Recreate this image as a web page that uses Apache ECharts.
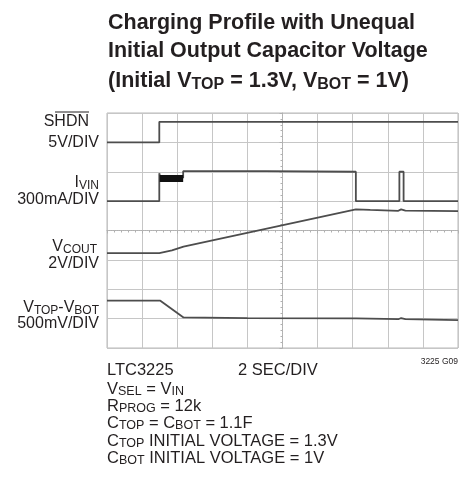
<!DOCTYPE html>
<html><head><meta charset="utf-8">
<script src="https://cdn.jsdelivr.net/npm/echarts@6/dist/echarts.min.js"></script>
<style>html,body{margin:0;padding:0;background:#fff}#c{width:465px;height:485px}</style>
</head><body><div id="c"></div>
<script>
// Screen divisions: x = time (2 s/div, 10 div), y = vertical divisions (0 bottom .. 8 top)
const shdnT = [0, 1.49, 1.49, 10];
const shdnV = [7.0, 7.0, 7.7, 7.7];
const ivinT = [0, 1.49, 1.49, 1.52, 2.17, 2.17, 4.5, 7.09, 7.09, 8.33, 8.33, 8.45, 8.45, 10];
const ivinV = [5.0, 5.0, 5.95, 5.8, 5.8, 6.02, 6.02, 6.0, 5.0, 5.0, 6.0, 6.0, 5.0, 5.0];
const ivinBandT = [1.5, 2.17];
const ivinBandV = [5.77, 5.77];
const vcoutT = [0, 1.49, 1.85, 2.18, 7.09, 7.5, 8.3, 8.38, 8.5, 10];
const vcoutV = [3.23, 3.23, 3.32, 3.45, 4.72, 4.70, 4.67, 4.72, 4.68, 4.66];
const vdiffT = [0, 1.52, 2.18, 4.0, 7.1, 8.3, 8.38, 8.5, 10];
const vdiffV = [1.61, 1.61, 1.04, 1.02, 1.01, 0.98, 1.02, 0.98, 0.95];
const xTicks = [0, 10];
const yTicks = [0, 8];

const zip = (a, b) => a.map((t, i) => [t, b[i]]);
const F = '"Liberation Sans", Arial, sans-serif';
const traceColor = '#4d4d4d';
const gridColor = '#c6c6c6';
const ink = '#231f20';

function lineSeries(name, t, v, w, color) {
  return { name, type: 'line', xAxisIndex: 0, yAxisIndex: 0, data: zip(t, v),
    showSymbol: false, symbol: 'none', lineStyle: { color: color || traceColor, width: w || 1.8 },
    silent: true, z: 5 };
}

const chart = echarts.init(document.getElementById('c'), null, { renderer: 'canvas' });
function txt(x, y, text, fs, align, rich, weight) {
  return { type: 'text', x, y, silent: true, style: {
    text, fill: ink, font: (weight || 'normal') + ' ' + fs + 'px ' + F,
    align: align || 'left', verticalAlign: 'middle', rich } };
}
const labRich = {
  n: { fontFamily: F, fontSize: 16, fill: ink, lineHeight: 18 },
  s: { fontFamily: F, fontSize: 12, fill: ink, padding: [6, 0, 0, 0], lineHeight: 12 }
};
const botRich = {
  n: { fontFamily: F, fontSize: 16.5, fill: ink, lineHeight: 18 },
  s: { fontFamily: F, fontSize: 12.5, fill: ink, padding: [6, 0, 0, 0], lineHeight: 12 }
};
const titRich = {
  n: { fontFamily: F, fontSize: 21.5, fontWeight: 'bold', fill: ink, lineHeight: 24 },
  s: { fontFamily: F, fontSize: 16, fontWeight: 'bold', fill: ink, padding: [8, 0, 0, 0], lineHeight: 16 }
};

chart.setOption({
  animation: false,
  grid: [
    { left: 107, top: 113, width: 351, height: 235, show: true, borderColor: '#b8b8b8', borderWidth: 1, backgroundColor: '#fff' },
    { left: 107, top: 113, width: 351, height: 235 }
  ],
  xAxis: [
    { type: 'value', gridIndex: 0, min: xTicks[0], max: xTicks[1], interval: 1,
      axisLine: { show: false }, axisTick: { show: false }, axisLabel: { show: false },
      splitLine: { show: true, lineStyle: { color: gridColor, width: 1 } } },
    { type: 'value', gridIndex: 1, min: -5, max: 5, interval: 1,
      axisLine: { show: true, onZero: true, lineStyle: { color: '#b0b0b0', type: 'dotted' } },
      axisTick: { show: true, length: 3, lineStyle: { color: '#b0b0b0' } },
      minorTick: { show: true, splitNumber: 5, length: 2, lineStyle: { color: '#b0b0b0' } },
      axisLabel: { show: false }, splitLine: { show: false } }
  ],
  yAxis: [
    { type: 'value', gridIndex: 0, min: yTicks[0], max: yTicks[1], interval: 1,
      axisLine: { show: false }, axisTick: { show: false }, axisLabel: { show: false },
      splitLine: { show: true, lineStyle: { color: gridColor, width: 1 } } },
    { type: 'value', gridIndex: 1, min: -4, max: 4, interval: 1,
      axisLine: { show: true, onZero: true, lineStyle: { color: '#b0b0b0', type: 'dotted' } },
      axisTick: { show: true, length: 3, lineStyle: { color: '#b0b0b0' } },
      minorTick: { show: true, splitNumber: 5, length: 2, lineStyle: { color: '#b0b0b0' } },
      axisLabel: { show: false }, splitLine: { show: false } }
  ],
  series: [
    lineSeries('SHDN', shdnT, shdnV),
    lineSeries('IVIN', ivinT, ivinV),
    lineSeries('IVIN band', ivinBandT, ivinBandV, 7, '#111'),
    lineSeries('VCOUT', vcoutT, vcoutV),
    lineSeries('VTOP-VBOT', vdiffT, vdiffV)
  ],
  graphic: [
    txt(108, 23, 'Charging Profile with Unequal', 21.5, 'left', null, 'bold'),
    txt(108, 51, 'Initial Output Capacitor Voltage', 21.5, 'left', null, 'bold'),
    txt(108, 81, '{n|(Initial V}{s|TOP}{n| = 1.3V, V}{s|BOT}{n| = 1V)}', 21.5, 'left', titRich, 'bold'),

    txt(89, 122, 'SHDN', 16, 'right'),
    { type: 'line', silent: true, shape: { x1: 55, y1: 112, x2: 89, y2: 112 }, style: { stroke: ink, lineWidth: 1 } },
    txt(99, 143, '5V/DIV', 16, 'right'),
    txt(99, 183, '{n|I}{s|VIN}', 16, 'right', labRich),
    txt(99, 200, '300mA/DIV', 16, 'right'),
    txt(97, 247, '{n|V}{s|COUT}', 16, 'right', labRich),
    txt(99, 264, '2V/DIV', 16, 'right'),
    txt(99, 308, '{n|V}{s|TOP}{n|-V}{s|BOT}', 16, 'right', labRich),
    txt(99, 324, '500mV/DIV', 16, 'right'),

    txt(107, 370, 'LTC3225', 16.5, 'left'),
    txt(238, 370, '2 SEC/DIV', 16.5, 'left'),
    txt(458, 362, '3225 G09', 8.5, 'right'),
    txt(107, 389, '{n|V}{s|SEL}{n| = V}{s|IN}', 16.5, 'left', botRich),
    txt(107, 406, '{n|R}{s|PROG}{n| = 12k}', 16.5, 'left', botRich),
    txt(107, 423, '{n|C}{s|TOP}{n| = C}{s|BOT}{n| = 1.1F}', 16.5, 'left', botRich),
    txt(107, 441, '{n|C}{s|TOP}{n| INITIAL VOLTAGE = 1.3V}', 16.5, 'left', botRich),
    txt(107, 458, '{n|C}{s|BOT}{n| INITIAL VOLTAGE = 1V}', 16.5, 'left', botRich)
  ]
});
</script></body></html>
